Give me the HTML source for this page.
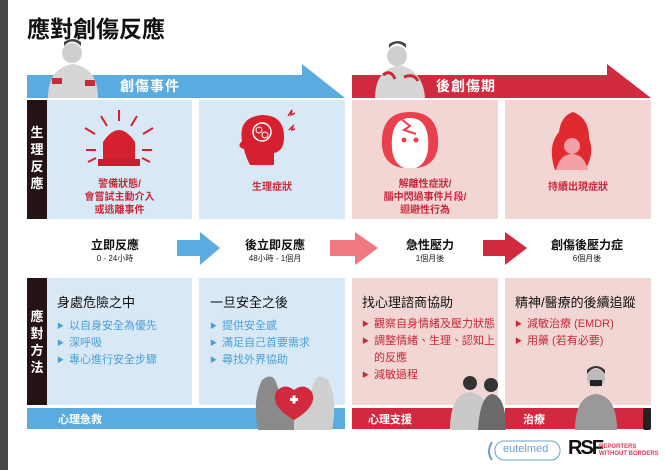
<!DOCTYPE html>
<html><head><meta charset="utf-8"><style>
*{margin:0;padding:0;box-sizing:border-box}
body{width:665px;height:470px;background:#fff;position:relative;overflow:hidden;font-family:"Liberation Sans","Noto Sans CJK TC",sans-serif}
.a{position:absolute}
.c{text-align:center}
.bl{color:#4a9fd8}
.rd{color:#c8283a}
.li{font-size:11px;line-height:16px}
.li span{font-size:7px;margin-right:5px;vertical-align:1px}
</style></head><body>
<div class="a" style="left:0;top:0;width:8px;height:470px;background:#474747"></div>
<div class="a" style="left:27px;top:10px;font-size:23px;font-weight:bold;color:#111">應對創傷反應</div>

<svg class="a" style="left:0;top:0" width="665" height="470">
<polygon points="27,75 302,75 302,64 345,98 27,98" fill="#5aabdf"/>
<polygon points="352,75 607,75 607,64 651,98 352,98" fill="#d12a3e"/>
<circle cx="72" cy="53" r="10" fill="#cfcfcf"/><path d="M64,46 q8,-9 17,0 v-4 q-8,-6 -17,0z" fill="#444"/>
<path d="M48,98 q0,-30 25,-34 q25,4 25,34z" fill="#d6d6d6"/>
<rect x="52" y="78" width="10" height="6" fill="#c82a38"/><rect x="85" y="80" width="10" height="6" fill="#c82a38"/>
<circle cx="397" cy="56" r="10" fill="#cfcfcf"/><path d="M389,48 q8,-9 17,0 v-4 q-8,-6 -17,0z" fill="#444"/>
<path d="M375,98 q0,-28 24,-33 q24,5 26,33z" fill="#d6d6d6"/>
<path d="M383,75 q8,-6 12,4 M404,77 q10,-4 14,4" stroke="#c82a38" stroke-width="3" fill="none"/>
<polygon points="177,240 200,240 200,232 220,248 200,265 200,256 177,256" fill="#5aabdf"/>
<polygon points="330,240 355,240 355,232 378,248 355,265 355,256 330,256" fill="#f07880"/>
<polygon points="483,240 505,240 505,232 527,248 505,265 505,256 483,256" fill="#d12a3e"/>
</svg>

<div class="a" style="left:27px;top:100px;width:20px;height:119px;background:#231313;color:#fff;font-size:13px;font-weight:bold;line-height:17px;text-align:center;padding-top:24px">生<br>理<br>反<br>應</div>
<div class="a" style="left:47px;top:100px;width:145px;height:119px;background:#d9e8f5"></div>
<div class="a" style="left:199px;top:100px;width:146px;height:119px;background:#d9e8f5"></div>
<div class="a" style="left:352px;top:100px;width:146px;height:119px;background:#f2d6d3"></div>
<div class="a" style="left:505px;top:100px;width:146px;height:119px;background:#f2d6d3"></div>
<svg class="a" style="left:0;top:0" width="665" height="230">
<path d="M103,160 v-18 q16,-24 32,0 v18z" fill="#d62030"/><rect x="98" y="159" width="42" height="7" fill="#c02030"/>
<g stroke="#d62030" stroke-width="2"><line x1="119" y1="110" x2="119" y2="121"/><line x1="101" y1="116" x2="107" y2="126"/><line x1="137" y1="116" x2="131" y2="126"/><line x1="85" y1="128" x2="95" y2="134"/><line x1="153" y1="128" x2="143" y2="134"/><line x1="86" y1="150" x2="96" y2="150"/><line x1="152" y1="150" x2="142" y2="150"/><line x1="88" y1="162" x2="96" y2="158"/><line x1="150" y1="162" x2="142" y2="158"/></g>
<path d="M250,165 q-5,-10 -6,-16 q-8,-2 -2,-8 q-4,-24 20,-26 q22,0 22,22 q0,14 -10,16 v12z" fill="#d62030"/>
<circle cx="262" cy="132" r="9" fill="none" stroke="#fff" stroke-width="1.5"/>
<circle cx="259" cy="130" r="3" fill="none" stroke="#fff" stroke-width="1"/><circle cx="265" cy="135" r="3" fill="none" stroke="#fff" stroke-width="1"/>
<path d="M288,116 l4,-6 l-1,5 l4,-2 M289,130 l4,-4 l-1,4 l3,-1" stroke="#d62030" fill="none" stroke-width="1.5"/>
<path d="M402,168 q-22,-4 -20,-30 q2,-26 28,-26 q26,0 28,26 q2,26 -20,30z" fill="#e8404c"/>
<path d="M404,168 q-14,-6 -12,-30 q2,-20 18,-20 q16,0 18,20 q2,24 -12,30z" fill="#fff"/>
<path d="M400,118 l10,8 l-6,4 l12,4" stroke="#e8404c" stroke-width="2" fill="none"/>
<circle cx="404" cy="140" r="2.5" fill="#e8404c"/><circle cx="416" cy="140" r="2.5" fill="#e8404c"/>
<path d="M555,170 q-8,-24 4,-38 q2,-16 14,-20 q16,6 16,26 q6,16 -4,32z" fill="#e02a30"/>
<circle cx="572" cy="146" r="8" fill="#f3a0a6"/><path d="M556,170 q4,-16 16,-16 q12,0 16,16z" fill="#f3a0a6"/>
</svg>
<div class="a c rd" style="left:47px;top:178px;width:145px;font-size:10px;line-height:13px;font-weight:bold">警備狀態/<br>會嘗試主動介入<br>或逃離事件</div>
<div class="a c rd" style="left:199px;top:178px;width:146px;font-size:10px;font-weight:bold">生理症狀</div>
<div class="a c rd" style="left:352px;top:178px;width:146px;font-size:10px;line-height:13px;font-weight:bold">解離性症狀/<br>腦中閃過事件片段/<br>迴避性行為</div>
<div class="a c rd" style="left:505px;top:178px;width:146px;font-size:10px;font-weight:bold">持續出現症狀</div>
<div class="a" style="left:120px;top:76px;color:#fff;font-size:14px;font-weight:bold;letter-spacing:1px">創傷事件</div>
<div class="a" style="left:436px;top:76px;color:#fff;font-size:14px;font-weight:bold;letter-spacing:1px">後創傷期</div>

<div class="a c" style="left:55px;top:236px;width:120px;font-size:12px;font-weight:bold;color:#111">立即反應</div>
<div class="a c" style="left:55px;top:253px;width:120px;font-size:8px;color:#222">0 - 24小時</div>
<div class="a c" style="left:215px;top:236px;width:120px;font-size:12px;font-weight:bold;color:#111">後立即反應</div>
<div class="a c" style="left:215px;top:253px;width:120px;font-size:8px;color:#222">48小時 - 1個月</div>
<div class="a c" style="left:370px;top:236px;width:120px;font-size:12px;font-weight:bold;color:#111">急性壓力</div>
<div class="a c" style="left:370px;top:253px;width:120px;font-size:8px;color:#222">1個月後</div>
<div class="a c" style="left:527px;top:236px;width:120px;font-size:12px;font-weight:bold;color:#111">創傷後壓力症</div>
<div class="a c" style="left:527px;top:253px;width:120px;font-size:8px;color:#222">6個月後</div>

<div class="a" style="left:27px;top:278px;width:20px;height:127px;background:#231313;color:#fff;font-size:13px;font-weight:bold;line-height:17px;text-align:center;padding-top:30px">應<br>對<br>方<br>法</div>
<div class="a" style="left:47px;top:278px;width:145px;height:127px;background:#d9e8f5"></div>
<div class="a" style="left:199px;top:278px;width:146px;height:127px;background:#d9e8f5"></div>
<div class="a" style="left:352px;top:278px;width:146px;height:127px;background:#f2d6d3"></div>
<div class="a" style="left:505px;top:278px;width:146px;height:127px;background:#f2d6d3"></div>
<div class="a" style="left:27px;top:408px;width:318px;height:21px;background:#5aabdf"></div>
<div class="a" style="left:352px;top:408px;width:146px;height:21px;background:#d12a3e"></div>
<div class="a" style="left:505px;top:408px;width:146px;height:21px;background:#d12a3e"></div>
<div class="a" style="left:58px;top:411px;color:#fff;font-size:11px;font-weight:bold">心理急救</div>
<div class="a" style="left:368px;top:411px;color:#fff;font-size:11px;font-weight:bold">心理支援</div>
<div class="a" style="left:523px;top:411px;color:#fff;font-size:11px;font-weight:bold">治療</div>

<div class="a" style="left:57px;top:292px;font-size:13px;color:#111">身處危險之中</div>
<div class="a li bl" style="left:57px;top:318px"><span>▶</span>以自身安全為優先<br><span>▶</span>深呼吸<br><span>▶</span>專心進行安全步驟</div>
<div class="a" style="left:210px;top:292px;font-size:13px;color:#111">一旦安全之後</div>
<div class="a li bl" style="left:210px;top:318px"><span>▶</span>提供安全感<br><span>▶</span>滿足自己首要需求<br><span>▶</span>尋找外界協助</div>
<div class="a" style="left:362px;top:292px;font-size:13px;color:#111">找心理諮商協助</div>
<div class="a li rd" style="left:362px;top:316px;line-height:16px"><span>▶</span>觀察自身情緒及壓力狀態<br><span>▶</span>調整情緒、生理、認知上<br><span style="visibility:hidden">▶</span>的反應<br><span>▶</span>減敏過程</div>
<div class="a" style="left:515px;top:292px;font-size:13px;color:#111">精神/醫療的後續追蹤</div>
<div class="a li rd" style="left:515px;top:316px"><span>▶</span>減敏治療 (EMDR)<br><span>▶</span>用藥 (若有必要)</div>

<svg class="a" style="left:0;top:0" width="665" height="470">
<path d="M258,430 q-6,-30 4,-50 q10,-8 14,2 q6,20 20,30 v18z" fill="#8a8a8a"/>
<path d="M332,430 q6,-30 -4,-50 q-10,-8 -14,2 q-6,20 -20,30 v18z" fill="#cfcfcf"/>
<path d="M294,420 q-24,-14 -18,-28 q8,-10 18,-2 q10,-8 18,2 q6,14 -18,28z" fill="#d12a3e"/>
<rect x="290" y="398" width="8" height="3" fill="#fff"/><rect x="292.5" y="395.5" width="3" height="8" fill="#fff"/>
<circle cx="470" cy="383" r="7" fill="#333"/><circle cx="491" cy="385" r="7" fill="#333"/>
<path d="M450,430 q0,-36 20,-38 q20,2 22,38z" fill="#c9c9c9"/>
<path d="M478,430 q2,-34 14,-36 q14,2 14,36z" fill="#6a6a6a"/>
<circle cx="596" cy="378" r="9" fill="#bbb"/><path d="M587,374 q9,-12 18,0 v-4 q-9,-8 -18,0z" fill="#333"/>
<rect x="590" y="380" width="12" height="6" fill="#222"/>
<path d="M575,430 q0,-34 21,-36 q21,2 21,36z" fill="#999"/>
<rect x="643" y="408" width="8" height="22" rx="2" fill="#222"/>
<path d="M492,442 q-6,10 0,18" stroke="#6a9fd0" stroke-width="2" fill="none"/>
<rect x="495" y="441" width="65" height="19" rx="9" fill="none" stroke="#6a9fd0" stroke-width="1"/>
</svg>
<div class="a" style="left:503px;top:443px;font-size:11px;color:#6a9fd0">eutelmed</div>
<div class="a" style="left:568px;top:437px;font-size:20px;font-weight:bold;color:#111;letter-spacing:-2px">RSF</div>
<div class="a" style="left:599px;top:444px;font-size:6px;font-weight:bold;color:#e8365a;line-height:7px">REPORTERS<br>WITHOUT BORDERS</div>
</body></html>
